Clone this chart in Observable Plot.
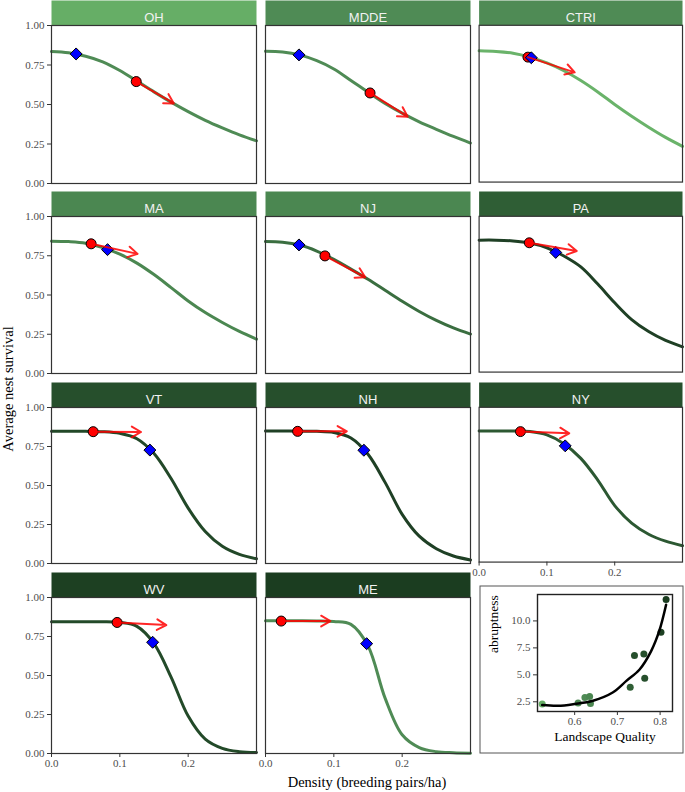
<!DOCTYPE html>
<html><head><meta charset="utf-8">
<script src="https://cdn.jsdelivr.net/npm/d3@7"></script>
<script src="https://cdn.jsdelivr.net/npm/@observablehq/plot@0.6"></script>
<style>
body{margin:0;background:#fff;}
#wrap{position:relative;width:685px;height:792px;overflow:hidden;background:#fff;}
.panel{position:absolute;}
.lab{position:absolute;font-family:"Liberation Serif","DejaVu Serif",serif;color:#000;white-space:nowrap;}
</style></head><body><div id="wrap"></div>
<script>
// ---------- data ----------
const states = ["OH","MDDE","CTRI","MA","NJ","PA","VT","NH","NY","WV","ME"];
const density = [0,0.025,0.05,0.075,0.1,0.125,0.15,0.175,0.2,0.225,0.25,0.275,0.3];
const survOH   = [0.835,0.827,0.805,0.770,0.715,0.648,0.580,0.515,0.455,0.400,0.352,0.308,0.270];
const survMDDE = [0.837,0.833,0.814,0.777,0.725,0.652,0.578,0.507,0.445,0.390,0.343,0.298,0.256];
const survCTRI = [0.837,0.833,0.822,0.797,0.760,0.710,0.648,0.575,0.495,0.420,0.350,0.285,0.228];
const survMA   = [0.843,0.840,0.830,0.802,0.760,0.703,0.630,0.547,0.462,0.388,0.325,0.268,0.219];
const survNJ   = [0.840,0.836,0.818,0.780,0.727,0.665,0.600,0.530,0.460,0.395,0.338,0.290,0.251];
const survPA   = [0.847,0.847,0.842,0.828,0.798,0.745,0.675,0.565,0.445,0.337,0.260,0.203,0.162];
const survVT   = [0.847,0.847,0.847,0.845,0.834,0.800,0.705,0.545,0.355,0.205,0.110,0.058,0.030];
const survNH   = [0.849,0.849,0.848,0.847,0.840,0.805,0.700,0.520,0.315,0.175,0.095,0.048,0.023];
const survNY   = [0.847,0.847,0.847,0.843,0.822,0.765,0.670,0.530,0.365,0.252,0.180,0.135,0.106];
const survWV   = [0.845,0.845,0.845,0.845,0.840,0.815,0.705,0.490,0.240,0.092,0.033,0.012,0.006];
const survME   = [0.851,0.851,0.851,0.850,0.846,0.828,0.690,0.355,0.120,0.038,0.012,0.005,0.002];
const survivalSeries = [survOH,survMDDE,survCTRI,survMA,survNJ,survPA,survVT,survNH,survNY,survWV,survME];

const circleDensity   = [0.124,0.153,0.072,0.058,0.087,0.074,0.061,0.047,0.061,0.096,0.023];
const circleSurvival  = [0.645,0.573,0.797,0.826,0.749,0.830,0.845,0.847,0.843,0.840,0.849];
const diamondDensity  = [0.036,0.049,0.077,0.082,0.049,0.113,0.144,0.144,0.127,0.148,0.148];
const diamondSurvival = [0.820,0.814,0.793,0.789,0.819,0.768,0.727,0.726,0.751,0.713,0.704];
const arrowEndDensity = [0.179,0.208,0.141,0.126,0.146,0.144,0.131,0.119,0.133,0.168,0.095];
const arrowEndSurvival= [0.507,0.423,0.700,0.762,0.613,0.777,0.843,0.847,0.832,0.823,0.849];

const stripColors = ["#66ae66","#4f8b55","#4f8b55","#4b8751","#4b8751","#2f5e35","#264f2c","#264f2c","#264f2c","#1d4022","#1b3d20"];
const curveColors = ["#4f8b55","#4f8b55","#6ab36a","#4b8751","#3a6e40","#1f4025","#224828","#1f4025","#2c5832","#234a29","#4f8b55"];

const yTicks = [0,0.25,0.5,0.75,1];
const xTicks = [0,0.1,0.2];

// inset data
const landscapeQuality = [0.524,0.608,0.624,0.635,0.637,0.730,0.740,0.762,0.764,0.802,0.814];
const abruptness       = [2.29,2.38,2.90,2.99,2.35,3.86,6.79,6.94,4.69,8.95,11.98];
const insetColors      = ["#66ae66","#4f8b55","#4f8b55","#4b8751","#4b8751","#2f5e35","#264f2c","#264f2c","#264f2c","#1d4022","#1b3d20"];
const smoothLQ         = [0.524,0.561,0.600,0.643,0.689,0.721,0.752,0.779,0.798,0.814];
const smoothAbrupt     = [2.20,2.13,2.30,2.60,3.36,4.44,5.50,7.20,9.07,11.50];
const insetXTicks = [0.6,0.7,0.8];
const insetYTicks = [2.5,5.0,7.5,10.0];

// ---------- layout ----------
const serif = "Liberation Serif, DejaVu Serif, serif";
const sans = "Liberation Sans, Arial, Helvetica, sans-serif";
const plotStyle = {background: "transparent", overflow: "visible", fontFamily: serif, fontSize: "11px"};
const colLeft = [51,265,479];
const panelW = 205;
const stripTop = [0,191,382,572];
const panelBottom = [183,373,563,753];
const wrap = document.getElementById("wrap");

function place(el, left, top){
  const d = document.createElement("div");
  d.className = "panel";
  d.style.left = left + "px"; d.style.top = top + "px";
  d.appendChild(el);
  wrap.appendChild(d);
}

states.forEach((st, i) => {
  const col = i % 3, row = Math.floor(i / 3);
  const showY = col === 0;
  const showX = row === 3 || (row === 2 && col === 2);
  const ph = panelBottom[row] - stripTop[row] - 25;
  const mL = 51, mR = 3, mT = 25, mB = 26;
  const rows = density.map((d, k) => ({d, s: survivalSeries[i][k]}));
  const c = {d: circleDensity[i], s: circleSurvival[i]};
  const dm = {d: diamondDensity[i], s: diamondSurvival[i]};
  const ar = {x1: circleDensity[i], y1: circleSurvival[i], x2: arrowEndDensity[i], y2: arrowEndSurvival[i]};
  const marks = [
    Plot.frame({fill: stripColors[i], stroke: "none", insetTop: -25, insetBottom: ph}),
    Plot.text([st], {frameAnchor: "top", dy: -12.5, text: d => d, fill: "#f2f2f2", fontSize: 13, fontFamily: sans}),
    Plot.line(rows, {x: "d", y: "s", stroke: curveColors[i], strokeWidth: 3, curve: "catmull-rom"}),
    Plot.dot([c], {x: "d", y: "s", r: 5, fill: "#ff0000", stroke: "#000", strokeWidth: 1}),
    Plot.dot([dm], {x: "d", y: "s", r: 5.4, symbol: "diamond2", fill: "#0000ff", stroke: "#000", strokeWidth: 1}),
    Plot.arrow([ar], {x1: "x1", y1: "y1", x2: "x2", y2: "y2", stroke: "#ff0000", strokeWidth: 2, strokeOpacity: 0.85, headLength: 8}),
    Plot.frame({stroke: "#333", strokeWidth: 1.2})
  ];
  if (showY) {
    marks.push(Plot.axisY({ticks: yTicks, tickSize: 4, color: "#333", tickFormat: () => "", label: null}));
    marks.push(Plot.axisY({ticks: yTicks, tickSize: 0, tickPadding: 7, color: "#4d4d4d", tickFormat: d => d.toFixed(2), fontSize: 11, fontFamily: serif, label: null}));
  }
  if (showX) {
    marks.push(Plot.axisX({ticks: xTicks, tickSize: 4, color: "#333", tickFormat: () => "", label: null}));
    marks.push(Plot.axisX({ticks: xTicks, tickSize: 0, tickPadding: 6, color: "#4d4d4d", tickFormat: d => d.toFixed(1), fontSize: 11, fontFamily: serif, label: null}));
  }
  const svg = Plot.plot({
    width: mL + panelW + mR, height: mT + ph + mB,
    marginLeft: mL, marginRight: mR, marginTop: mT, marginBottom: mB,
    x: {domain: [0, 0.3], axis: showX ? undefined : null},
    y: {domain: [0, 1], axis: showY ? undefined : null},
    style: plotStyle,
    marks
  });
  place(svg, colLeft[col] - mL, stripTop[row]);
});

// inset
{
  const mL = 58, mR = 11, mT = 9, mB = 42, W = 204, H = 168;
  const pts = landscapeQuality.map((q, k) => ({q, a: abruptness[k], c: insetColors[k]}));
  const sm = smoothLQ.map((q, k) => ({q, a: smoothAbrupt[k]}));
  const svg = Plot.plot({
    width: W, height: H, marginLeft: mL, marginRight: mR, marginTop: mT, marginBottom: mB,
    x: {domain: [0.513, 0.829]},
    y: {domain: [1.6, 12.45]},
    style: plotStyle,
    marks: [
      Plot.frame({stroke: "#555", strokeWidth: 1, insetLeft: -(mL - 0.5), insetRight: -(mR - 0.5), insetTop: -(mT - 0.5), insetBottom: -(mB - 0.5)}),
      Plot.dot(pts, {x: "q", y: "a", fill: "c", r: 3.5}),
      Plot.line(sm, {x: "q", y: "a", stroke: "#000", strokeWidth: 2.5, curve: "catmull-rom"}),
      Plot.frame({stroke: "#222", strokeWidth: 1.4}),
      Plot.axisX({ticks: insetXTicks, tickSize: 4, color: "#333", tickFormat: () => "", label: null}),
      Plot.axisX({ticks: insetXTicks, tickSize: 0, tickPadding: 6, color: "#4d4d4d", tickFormat: d => d.toFixed(1), fontSize: 11, fontFamily: serif, label: null}),
      Plot.axisY({ticks: insetYTicks, tickSize: 4, color: "#333", tickFormat: () => "", label: null}),
      Plot.axisY({ticks: insetYTicks, tickSize: 0, tickPadding: 7, color: "#4d4d4d", tickFormat: d => d.toFixed(1), fontSize: 11, fontFamily: serif, label: null}),
      Plot.text(["Landscape Quality"], {frameAnchor: "bottom", dy: 29, text: d => d, fill: "#000", fontSize: 13.5, fontFamily: serif}),
      Plot.text(["abruptness"], {frameAnchor: "left", dx: -44, rotate: -90, text: d => d, fill: "#000", fontSize: 13.5, fontFamily: serif})
    ]
  });
  place(svg, 479, 585);
}

// make sure tick labels use the serif face
wrap.querySelectorAll('svg g[aria-label$="tick label"]').forEach(g => {
  g.setAttribute("font-family", serif);
  g.setAttribute("font-size", "11");
  g.style.fontFamily = serif;
});

// axis titles
const yt = document.createElement("div");
yt.className = "lab";
yt.textContent = "Average nest survival";
yt.style.cssText += "font-size:14.5px;left:8px;top:389px;transform:translate(-50%,-50%) rotate(-90deg);";
wrap.appendChild(yt);
const xt = document.createElement("div");
xt.className = "lab";
xt.textContent = "Density (breeding pairs/ha)";
xt.style.cssText += "font-size:14.5px;left:367px;top:782px;transform:translate(-50%,-50%);";
wrap.appendChild(xt);
</script></body></html>
